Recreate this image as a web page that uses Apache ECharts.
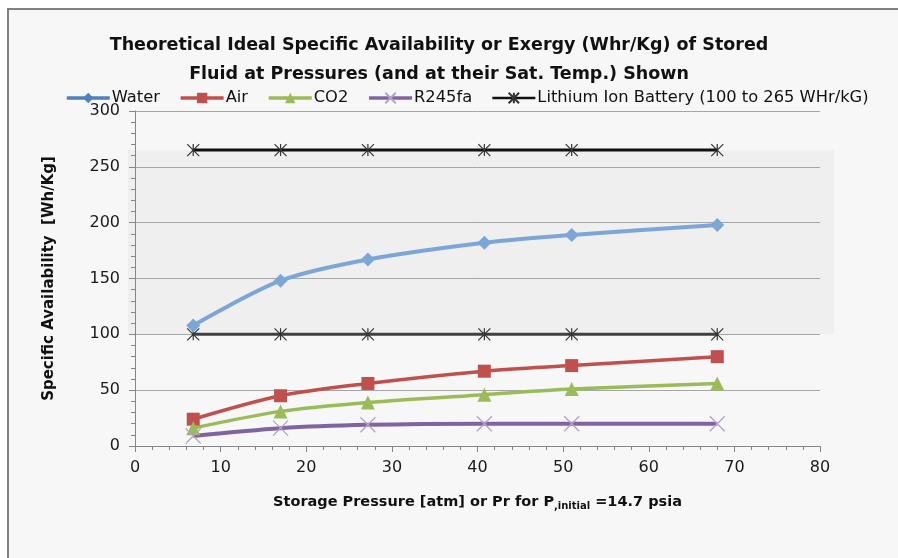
<!DOCTYPE html>
<html>
<head>
<meta charset="utf-8">
<script src="https://cdn.jsdelivr.net/npm/echarts@6/dist/echarts.min.js"></script>
<style>
html,body{margin:0;padding:0;background:#fff;}
#c{width:898px;height:558px;}
</style>
</head>
<body>
<div id="c"></div>
<script>
// Data
const pressures = [6.8, 17.0, 27.2, 40.8, 51.0, 68.0];
const water  = [108, 148, 167, 182, 189, 198];
const air    = [24, 45, 56, 67, 72, 80];
const co2    = [16, 31, 39, 46, 51, 56];
const r245fa = [9, 16, 19, 20, 20, 20];
const batteryHigh = [265, 265, 265, 265, 265, 265];
const batteryLow  = [100, 100, 100, 100, 100, 100];
const bandRange = [100, 265];
const xTicks = [0, 80, 10];
const yTicks = [0, 300, 50];

const FONT = "'DejaVu Sans', sans-serif";
const pairs = (xs, ys) => xs.map((x, i) => [x, ys[i]]);

const xPath = 'path://M0,0L10,10M10,0L0,10';
const starPath = 'path://M0,0L10,10M10,0L0,10M5,0L5,10';
const BAT = 'Lithium Ion Battery (100 to 265 WHr/kG)';

const chart = echarts.init(document.getElementById('c'), null, {renderer: 'canvas'});
const option = {
  backgroundColor: '#f7f7f7',
  animation: false,
  textStyle: {fontFamily: FONT},
  title: {
    text: 'Theoretical Ideal Specific Availability or Exergy (Whr/Kg) of Stored\nFluid at Pressures (and at their Sat. Temp.) Shown',
    left: 434, top: 26, textAlign: 'center',
    textStyle: {fontFamily: FONT, fontSize: 17.5, fontWeight: 'bold', color: '#111', lineHeight: 29}
  },
  legend: {
    left: 60, top: 85, itemWidth: 43, itemHeight: 13, itemGap: 19,
    textStyle: {fontFamily: FONT, fontSize: 16.3, color: '#111', padding: [0, 0, 0, -3]},
    data: [
      {name: 'Water', itemStyle: {color: '#4f81bd'}, lineStyle: {color: '#4f81bd', width: 3.5}},
      {name: 'Air', lineStyle: {width: 3.5}},
      {name: 'CO2', lineStyle: {width: 3.5}},
      {name: 'R245fa', lineStyle: {width: 3.5}},
      {name: BAT, lineStyle: {width: 2.5}}
    ]
  },
  grid: {left: 135, right: 78, top: 111, bottom: 112},
  xAxis: {
    type: 'value', min: xTicks[0], max: xTicks[1], interval: xTicks[2],
    nameLocation: 'middle', nameGap: 47,
    nameTextStyle: {
      rich: {
        b: {fontFamily: FONT, fontSize: 14.5, fontWeight: 'bold', color: '#111'},
        s: {fontFamily: FONT, fontSize: 10, fontWeight: 'bold', color: '#111', verticalAlign: 'bottom', padding: [8, 0, 0, 0]}
      }
    },
    axisLine: {lineStyle: {color: '#868686', width: 1}},
    axisTick: {length: 6, lineStyle: {color: '#868686'}},
    minorTick: {show: true, splitNumber: 5, length: 4, lineStyle: {color: '#868686'}},
    splitLine: {show: false},
    axisLabel: {fontFamily: FONT, fontSize: 16, color: '#1a1a1a', margin: 14}
  },
  yAxis: {
    type: 'value', min: yTicks[0], max: yTicks[1], interval: yTicks[2],
    name: 'Specific Availability  [Wh/Kg]',
    nameLocation: 'middle', nameGap: 78,
    nameTextStyle: {fontFamily: FONT, fontSize: 15, fontWeight: 'bold', color: '#111'},
    axisLine: {show: true, lineStyle: {color: '#868686', width: 1}},
    axisTick: {show: true, length: 6, lineStyle: {color: '#868686'}},
    minorTick: {show: true, splitNumber: 5, length: 4, lineStyle: {color: '#868686'}},
    splitLine: {show: true, lineStyle: {color: '#a6a6a6', width: 1}},
    axisLabel: {fontFamily: FONT, fontSize: 16, color: '#1a1a1a', margin: 15}
  },
  series: [
    {
      name: BAT, type: 'line', z: 2,
      data: pairs(pressures, batteryHigh),
      symbol: starPath, symbolSize: 12,
      itemStyle: {color: '#111', borderColor: '#333', borderWidth: 1.2},
      lineStyle: {color: '#111', width: 3}
    },
    {
      name: BAT, type: 'line', z: 2,
      data: pairs(pressures, batteryLow),
      symbol: starPath, symbolSize: 12,
      itemStyle: {color: '#111', borderColor: '#333', borderWidth: 1.2},
      lineStyle: {color: '#404040', width: 3}
    },
    {
      name: 'Water', type: 'line', smooth: 0.3, z: 3,
      data: pairs(pressures, water),
      symbol: 'diamond', symbolSize: 14,
      itemStyle: {color: '#7ca6d8'},
      lineStyle: {color: '#7ca6d8', width: 4}
    },
    {
      name: 'Air', type: 'line', smooth: 0.3, z: 3,
      data: pairs(pressures, air),
      symbol: 'rect', symbolSize: 13,
      itemStyle: {color: '#c0504d'},
      lineStyle: {color: '#c0504d', width: 3.5}
    },
    {
      name: 'CO2', type: 'line', smooth: 0.3, z: 3,
      data: pairs(pressures, co2),
      symbol: 'triangle', symbolSize: 14,
      itemStyle: {color: '#9bbb59'},
      lineStyle: {color: '#9bbb59', width: 3.5}
    },
    {
      name: 'R245fa', type: 'line', smooth: 0.3, z: 3,
      data: pairs(pressures, r245fa),
      symbol: xPath, symbolSize: 15,
      itemStyle: {color: '#8064a2', borderColor: '#b3a2c7', borderWidth: 1.3},
      lineStyle: {color: '#8064a2', width: 4}
    }
  ],
  graphic: [
    {type: 'rect', shape: {x: 0, y: 0, width: 898, height: 8}, style: {fill: '#fff'}, silent: true, z: 100},
    {type: 'rect', shape: {x: 0, y: 0, width: 7, height: 558}, style: {fill: '#fff'}, silent: true, z: 100},
    {type: 'line', shape: {x1: 7, y1: 9, x2: 898, y2: 9}, style: {stroke: '#808080', lineWidth: 2}, silent: true, z: 100},
    {type: 'line', shape: {x1: 8, y1: 8, x2: 8, y2: 558}, style: {stroke: '#808080', lineWidth: 2}, silent: true, z: 100}
  ]
};
option.xAxis.name = '{b|Storage Pressure [atm] or Pr for P}{s|,initial}{b| =14.7 psia}';
chart.setOption(option);

// shaded battery band, placed through the axis scales, extending a little past the plot edges
const pTop = chart.convertToPixel({gridIndex: 0}, [xTicks[0], bandRange[1]]);
const pBot = chart.convertToPixel({gridIndex: 0}, [xTicks[1], bandRange[0]]);
chart.setOption({
  graphic: [
    {type: 'rect', id: 'band', z: -1, zlevel: 0, silent: true,
     shape: {x: pTop[0] - 7, y: pTop[1], width: pBot[0] - pTop[0] + 21, height: pBot[1] - pTop[1]},
     style: {fill: '#efefef'}}
  ]
});
</script>
</body>
</html>
